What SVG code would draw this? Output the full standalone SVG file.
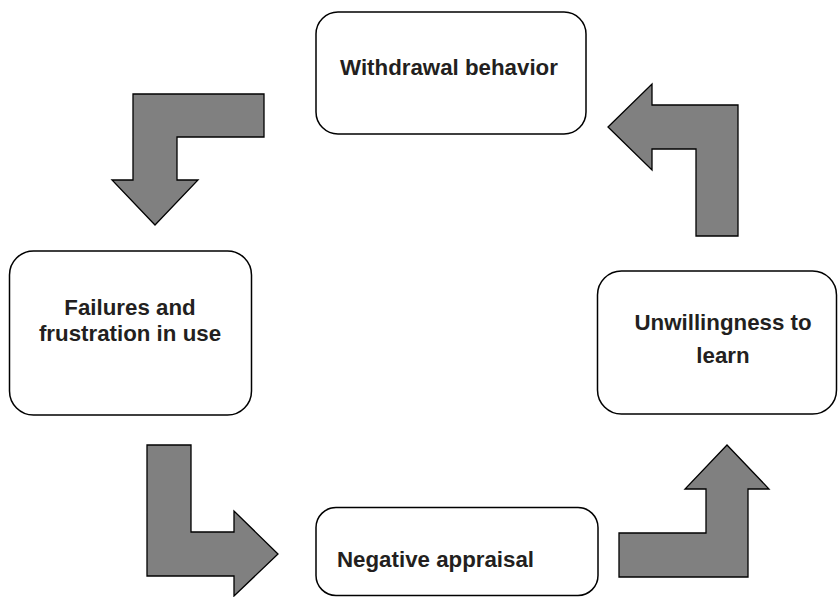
<svg xmlns="http://www.w3.org/2000/svg" width="838" height="597" viewBox="0 0 838 597">
<style>
.box{fill:#fff;stroke:#000;stroke-width:1.5}
.arr{fill:#808080;stroke:#000;stroke-width:1.3;stroke-linejoin:miter}
.t{font-family:"Liberation Sans",Arial,sans-serif;font-weight:bold;font-size:22.3px;fill:#231f20}
</style>
<rect width="838" height="597" fill="#fff"/>
<g id="connectors">
<path class="arr" d="M133,94 L264,94 L264,137 L177,137 L177,180 L198,180 L155,225 L112,180 L133,180 Z"/>
<path class="arr" d="M652,84 L652,105 L738,105 L738,236 L696,236 L696,149 L652,149 L652,170 L608,127 Z"/>
<path class="arr" d="M147,445 L191,445 L191,532 L234,532 L234,511 L278,554 L234,596 L234,576 L147,576 Z"/>
<path class="arr" d="M727,445 L769,489 L748,489 L748,577 L619,577 L619,533 L706,533 L706,489 L685,489 Z"/>
</g>
<g id="withdrawal">
<rect class="box" x="316" y="12" width="270" height="122" rx="22"/>
<text class="t" x="449" y="75" text-anchor="middle">Withdrawal behavior</text>
</g>
<g id="failures">
<rect class="box" x="9.5" y="251" width="242" height="164" rx="24"/>
<text class="t" x="130" y="315" text-anchor="middle">Failures and</text>
<text class="t" x="130" y="341" text-anchor="middle">frustration in use</text>
</g>
<g id="unwillingness">
<rect class="box" x="597.5" y="271" width="239" height="143" rx="24"/>
<text class="t" x="723" y="330" text-anchor="middle">Unwillingness to</text>
<text class="t" x="723" y="363" text-anchor="middle">learn</text>
</g>
<g id="negative">
<rect class="box" x="316" y="507.5" width="282" height="88" rx="20"/>
<text class="t" x="337" y="567">Negative appraisal</text>
</g>
</svg>
